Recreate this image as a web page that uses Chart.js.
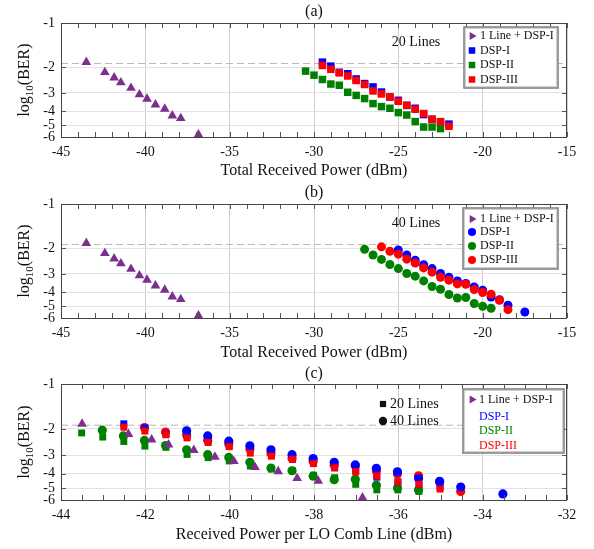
<!DOCTYPE html>
<html>
<head>
<meta charset="utf-8">
<script src="https://cdn.jsdelivr.net/npm/chart.js@4.4.1/dist/chart.umd.min.js"></script>
<style>
  body { margin: 0; background: #fff; }
  #wrap { position: relative; width: 594px; height: 549px; }
  canvas { position: absolute; left: 0; }
</style>
</head>
<body>
<div id="wrap">
  <canvas id="pa" width="594" height="180" style="top:0"></canvas>
  <canvas id="pb" width="594" height="180" style="top:180px"></canvas>
  <canvas id="pc" width="594" height="189" style="top:360px"></canvas>
</div>
<script>
// ======= Data (log10 BER) =======
const FEC_LIMIT = -1.89;
const BER_TICKS = [-1, -2, -3, -4, -5, -6];

// single LO line, total received power (dBm)
const oneLineX   = [-43.5, -42.4, -41.85, -41.45, -40.85, -40.35, -39.9, -39.4, -38.85, -38.4, -37.9, -36.85];
const oneLineBer = [-1.85, -2.17, -2.36, -2.55, -2.78, -3.08, -3.30, -3.61, -3.86, -4.29, -4.47, -5.78];

// 20 comb lines
const dsp1x20   = [-29.5, -29, -28.5, -28, -27.5, -27, -26.5, -26, -25.5, -25, -24.5, -24, -23.5, -23, -22.5, -22];
const dsp1ber20 = [-1.85, -1.97, -2.17, -2.22, -2.41, -2.59, -2.73, -2.96, -3.20, -3.37, -3.65, -3.82, -4.22, -4.54, -4.76, -4.90];
const dsp2x20   = [-30.5, -30, -29.5, -29, -28.5, -28, -27.5, -27, -26.5, -26, -25.5, -25, -24.5, -24, -23.5, -23, -22.5];
const dsp2ber20 = [-2.13, -2.27, -2.43, -2.61, -2.66, -2.97, -3.12, -3.28, -3.55, -3.72, -3.82, -4.09, -4.25, -4.71, -5.13, -5.13, -5.26];
const dsp3x20   = [-29.5, -29, -28.5, -28, -27.5, -27, -26.5, -26, -25.5, -25, -24.5, -24, -23.5, -23, -22.5, -22];
const dsp3ber20 = [-1.95, -2.07, -2.19, -2.30, -2.47, -2.63, -2.91, -3.05, -3.20, -3.42, -3.65, -3.88, -4.15, -4.54, -4.71, -5.07];

// 40 comb lines
const dsp1x40   = [-25, -24.5, -24, -23.5, -23, -22.5, -22, -21.5, -21, -20.5, -20, -19.5, -19, -18.5, -17.5];
const dsp1ber40 = [-2.06, -2.23, -2.42, -2.60, -2.76, -2.98, -3.16, -3.35, -3.49, -3.68, -3.88, -4.31, -4.50, -4.91, -5.46];
const dsp2x40   = [-27, -26.5, -26, -25.5, -25, -24.5, -24, -23.5, -23, -22.5, -22, -21.5, -21, -20.5, -20, -19.5];
const dsp2ber40 = [-2.04, -2.23, -2.39, -2.59, -2.76, -2.98, -3.11, -3.35, -3.66, -3.82, -4.15, -4.38, -4.35, -4.78, -4.99, -5.15];
const dsp3x40   = [-26, -25.5, -25, -24.5, -24, -23.5, -23, -22.5, -22, -21.5, -21, -20.5, -20, -19.5, -19, -18.5];
const dsp3ber40 = [-1.96, -2.10, -2.20, -2.38, -2.53, -2.73, -2.92, -3.16, -3.31, -3.51, -3.53, -3.84, -4.02, -4.13, -4.54, -5.26];

// power per LO comb line = total - 10*log10(N)
const perLine = (n) => -10 * Math.log10(n);

// ======= Style =======
const PURPLE = "#7E2F8E", BLUE = "#0000FF", GREEN = "#008000", RED = "#FF0000";
const SERIF = "'Liberation Serif', 'Times New Roman', serif";
const tickFont = { family: SERIF, size: 14 };

// y is drawn as log(-log10 BER), reversed, like the original
const pts = (xs, ys, shift = 0) => xs.map((x, i) => ({ x: x + shift, y: -ys[i] }));

function ds(label, data, color, style, r) {
  return {
    label, data, showLine: false, clip: false,
    pointStyle: style, pointRadius: r,
    backgroundColor: color, borderColor: color, borderWidth: 0
  };
}
function fec(xMin, xMax) {
  return {
    label: "FEC", data: [{ x: xMin, y: -FEC_LIMIT }, { x: xMax, y: -FEC_LIMIT }],
    showLine: true, pointRadius: 0, borderColor: "#b8b8b8", borderWidth: 1, borderDash: [7, 4]
  };
}

// ======= Frame / annotation plugin =======
const frame = {
  id: "frame",
  afterDraw(chart, args, o) {
    const { ctx, chartArea: a, scales: { x, y } } = chart;
    ctx.save();

    // inward ticks
    ctx.strokeStyle = "#555";
    ctx.lineWidth = 1;
    ctx.beginPath();
    for (let v = x.min; v <= x.max + 1e-6; v += o.minor) {
      const px = Math.round(x.getPixelForValue(v)) + 0.5;
      ctx.moveTo(px, a.bottom); ctx.lineTo(px, a.bottom - 5);
      ctx.moveTo(px, a.top);    ctx.lineTo(px, a.top + 5);
    }
    BER_TICKS.forEach(t => {
      const py = Math.round(y.getPixelForValue(-t)) + 0.5;
      ctx.moveTo(a.left, py);  ctx.lineTo(a.left + 5, py);
      ctx.moveTo(a.right, py); ctx.lineTo(a.right - 5, py);
    });
    ctx.stroke();
    ctx.strokeStyle = "#444";
    ctx.strokeRect(a.left + 0.5, a.top + 0.5, a.right - a.left - 1, a.bottom - a.top);

    ctx.fillStyle = "#111";
    ctx.textBaseline = "middle";

    // panel title
    ctx.textAlign = "center";
    ctx.font = `16px ${SERIF}`;
    ctx.fillText(o.title, (a.left + a.right) / 2, o.titleY);

    // x title
    ctx.fillText(o.xTitle, (a.left + a.right) / 2, o.xTitleY);

    // y title: log10(BER) with subscript
    ctx.save();
    ctx.translate(25, (a.top + a.bottom) / 2);
    ctx.rotate(-Math.PI / 2);
    ctx.textAlign = "left";
    ctx.font = `16px ${SERIF}`;
    const w1 = ctx.measureText("log").width, w3 = ctx.measureText("(BER)").width;
    ctx.font = `11px ${SERIF}`;
    const w2 = ctx.measureText("10").width;
    let tx = -(w1 + w2 + w3) / 2;
    ctx.font = `16px ${SERIF}`;
    ctx.fillText("log", tx, 0); tx += w1;
    ctx.font = `11px ${SERIF}`;
    ctx.fillText("10", tx, 5); tx += w2;
    ctx.font = `16px ${SERIF}`;
    ctx.fillText("(BER)", tx, 0);
    ctx.restore();

    // notes
    o.notes.forEach(n => {
      ctx.font = `14px ${SERIF}`;
      ctx.fillStyle = "#111";
      if (n.marker) {
        ctx.textAlign = "left";
        Chart.helpers.drawPoint(ctx, { pointStyle: n.marker, radius: n.r, borderWidth: 0 }, n.mx, n.y);
        ctx.fillText(n.text, n.x, n.y);
      } else {
        ctx.textAlign = "center";
        ctx.fillText(n.text, n.x, n.y);
      }
    });

    // legend box
    const L = o.legend;
    const [bx0, by0, bx1, by1] = L.box;
    ctx.fillStyle = "#fff";
    ctx.fillRect(bx0, by0, bx1 - bx0, by1 - by0);
    ctx.strokeStyle = "#d0d0d0";
    ctx.lineWidth = 1;
    ctx.strokeRect(bx0 + 1.5, by0 + 1.5, bx1 - bx0 - 3, by1 - by0 - 3);
    ctx.strokeStyle = "#7a7a7a";
    ctx.lineWidth = 1.5;
    ctx.strokeRect(bx0, by0, bx1 - bx0, by1 - by0);
    ctx.font = `12px ${SERIF}`;
    ctx.textAlign = "left";
    L.rows.forEach(r => {
      if (r.marker) {
        ctx.fillStyle = r.color;
        Chart.helpers.drawPoint(ctx, { pointStyle: r.marker, rotation: r.rot || 0, radius: r.r, borderWidth: 0 }, L.mx, r.y);
      }
      ctx.fillStyle = r.textColor || "#111";
      ctx.fillText(r.text, L.tx, r.y);
    });
    ctx.restore();
  }
};

function panel(id, o) {
  const H = document.getElementById(id).height;
  return new Chart(document.getElementById(id), {
    type: "scatter",
    data: { datasets: o.datasets },
    options: {
      responsive: false, animation: false, events: [],
      layout: { padding: { top: o.top, right: 27, left: 0, bottom: 0 } },
      scales: {
        x: {
          type: "linear", min: o.xMin, max: o.xMax,
          ticks: { stepSize: o.xStep, padding: 7, color: "#111", font: tickFont, maxRotation: 0, autoSkip: false },
          grid: { color: "#cfcfcf", drawTicks: false },
          border: { display: false },
          afterFit: s => { s.height = H - o.bottom; }
        },
        y: {
          type: "logarithmic", reverse: true, min: 1, max: 6,
          afterBuildTicks: s => { s.ticks = BER_TICKS.map(t => ({ value: -t })); },
          ticks: { callback: v => "-" + v, padding: 6, color: "#111", font: tickFont, autoSkip: false },
          grid: { color: "#e2e2e2", drawTicks: false },
          border: { display: false },
          afterFit: s => { s.width = 61; }
        }
      },
      plugins: { legend: { display: false }, tooltip: { enabled: false }, frame: o.frame }
    },
    plugins: [frame]
  });
}

const legendRows = (shape, r, ys) => [
  { text: "1 Line + DSP-I", marker: "triangle", rot: 90, r: 4.6, color: PURPLE, y: ys[0] },
  { text: "DSP-I",   marker: shape, r, color: BLUE,  y: ys[1] },
  { text: "DSP-II",  marker: shape, r, color: GREEN, y: ys[2] },
  { text: "DSP-III", marker: shape, r, color: RED,   y: ys[3] }
];

// ======= (a) 20 lines =======
panel("pa", {
  top: 23, bottom: 137, xMin: -45, xMax: -15, xStep: 5,
  datasets: [
    ds("DSP-III", pts(dsp3x20, dsp3ber20), RED, "rect", 5.3),
    ds("DSP-II", pts(dsp2x20, dsp2ber20), GREEN, "rect", 5.3),
    ds("DSP-I", pts(dsp1x20, dsp1ber20), BLUE, "rect", 5.3),
    ds("1 Line + DSP-I", pts(oneLineX, oneLineBer), PURPLE, "triangle", 5.6),
    fec(-45, -15)
  ],
  frame: {
    minor: 1, title: "(a)", titleY: 12, xTitle: "Total Received Power (dBm)", xTitleY: 171,
    notes: [{ text: "20 Lines", x: 416, y: 42 }],
    legend: { box: [464, 27, 558, 88], mx: 472, tx: 480, rows: legendRows("rect", 4.6, [36, 50.5, 65, 79.5]) }
  }
});

// ======= (b) 40 lines =======
panel("pb", {
  top: 24, bottom: 138, xMin: -45, xMax: -15, xStep: 5,
  datasets: [
    ds("DSP-III", pts(dsp3x40, dsp3ber40), RED, "circle", 4.5),
    ds("DSP-II", pts(dsp2x40, dsp2ber40), GREEN, "circle", 4.5),
    ds("DSP-I", pts(dsp1x40, dsp1ber40), BLUE, "circle", 4.5),
    ds("1 Line + DSP-I", pts(oneLineX, oneLineBer), PURPLE, "triangle", 5.6),
    fec(-45, -15)
  ],
  frame: {
    minor: 1, title: "(b)", titleY: 13, xTitle: "Total Received Power (dBm)", xTitleY: 173,
    notes: [{ text: "40 Lines", x: 416, y: 43 }],
    legend: { box: [463, 28, 558, 89], mx: 472, tx: 480, rows: legendRows("circle", 4, [39, 52, 66, 80]) }
  }
});

// ======= (c) per LO comb line =======
panel("pc", {
  top: 24, bottom: 140, xMin: -44, xMax: -32, xStep: 2,
  datasets: [
    ds("1 Line + DSP-I", pts(oneLineX, oneLineBer), PURPLE, "triangle", 5.6),
    ds("DSP-III 20", pts(dsp3x20, dsp3ber20, perLine(20)), RED, "rect", 4.9),
    ds("DSP-II 20", pts(dsp2x20, dsp2ber20, perLine(20)), GREEN, "rect", 4.9),
    ds("DSP-I 20", pts(dsp1x20, dsp1ber20, perLine(20)), BLUE, "rect", 4.9),
    ds("DSP-I 40", pts(dsp1x40, dsp1ber40, perLine(40)), BLUE, "circle", 4.6),
    ds("DSP-III 40", pts(dsp3x40, dsp3ber40, perLine(40)), RED, "circle", 4.6),
    ds("DSP-II 40", pts(dsp2x40, dsp2ber40, perLine(40)), GREEN, "circle", 4.6),
    fec(-44, -32)
  ],
  frame: {
    minor: 0.5, title: "(c)", titleY: 14, xTitle: "Received Power per LO Comb Line (dBm)", xTitleY: 175,
    notes: [
      { text: "20 Lines", x: 390, y: 44, marker: "rect", r: 4.4, mx: 383 },
      { text: "40 Lines", x: 390, y: 61, marker: "circle", r: 4.2, mx: 383 }
    ],
    legend: {
      box: [463, 29, 564, 93], mx: 472, tx: 479,
      rows: [
        { text: "1 Line + DSP-I", marker: "triangle", rot: 90, r: 4.6, color: PURPLE, y: 39.5 },
        { text: "DSP-I", textColor: BLUE, y: 56.5 },
        { text: "DSP-II", textColor: GREEN, y: 71 },
        { text: "DSP-III", textColor: RED, y: 86 }
      ]
    }
  }
});
</script>
</body>
</html>
